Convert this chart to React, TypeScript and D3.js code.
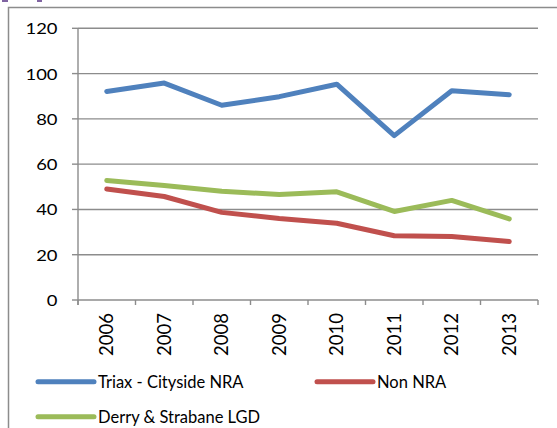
import React from "react";
import * as d3 from "d3";

const years = ["2006", "2007", "2008", "2009", "2010", "2011", "2012", "2013"];
const triax = [92.1, 95.8, 86.0, 89.8, 95.3, 72.6, 92.4, 90.7];
const nonNra = [49.0, 45.7, 38.7, 36.0, 33.9, 28.4, 28.0, 25.8];
const derry = [52.8, 50.6, 48.0, 46.6, 47.8, 39.1, 44.0, 35.8];
const yTicks = [0, 20, 40, 60, 80, 100, 120];

const seriesNames = ["Triax - Cityside NRA", "Non NRA", "Derry & Strabane LGD"];
const seriesColors = ["#4F81BD", "#C0504D", "#9BBB59"];
const seriesValues = [triax, nonNra, derry];

const W = 557;
const H = 428;
const FONT = "Lato, 'Open Sans', sans-serif";
const GRID = "#8c8c8c";

export default function App() {
  const x = d3.scaleBand<string>().domain(years).range([78, 538]).padding(0);
  const y = d3.scaleLinear().domain([0, 120]).range([300, 28.3]);
  const cx = (d: string) => (x(d) as number) + x.bandwidth() / 2;

  const line = d3
    .line<number>()
    .x((_, i) => cx(years[i]))
    .y((v) => y(v));

  const boundaries = years.map((d) => x(d) as number).concat([538]);

  // legend rows: two entries on the first row, one on the second
  const legend = [
    { lx: 38, ly: 381.7 },
    { lx: 317, ly: 381.7 },
    { lx: 38, ly: 416.7 },
  ];

  return (
    <div style={{ position: "absolute", left: 0, top: 0 }}>
      <svg width={W} height={H} style={{ display: "block", background: "#fff" }}>
        {/* header accents */}
        <rect x={2} y={0} width={6} height={2} fill="#8064A2" />
        <rect x={37} y={0} width={5} height={2} fill="#8064A2" />

        {/* chart frame */}
        <path d={`M8.5,${H} V7.5 H${W}`} fill="none" stroke={GRID} strokeWidth={1.5} />

        {/* gridlines */}
        {yTicks
          .filter((t) => t > 0)
          .map((t) => (
            <line key={t} x1={78} x2={538} y1={y(t)} y2={y(t)} stroke={GRID} strokeWidth={1.4} />
          ))}

        {/* y axis */}
        <line x1={78} x2={78} y1={y(120)} y2={305} stroke={GRID} strokeWidth={1.4} />
        {yTicks.map((t) => (
          <line key={t} x1={72} x2={78} y1={y(t)} y2={y(t)} stroke={GRID} strokeWidth={1.4} />
        ))}
        {yTicks.map((t) => (
          <text
            key={t}
            transform={`translate(57.5,${y(t) + 6}) scale(1.15,1)`}
            textAnchor="end"
            fontFamily={FONT}
            fontSize={16}
            fill="#000"
          >
            {t}
          </text>
        ))}

        {/* x axis */}
        <line x1={78} x2={538} y1={300} y2={300} stroke={GRID} strokeWidth={1.4} />
        {boundaries.map((b, i) => (
          <line key={i} x1={b} x2={b} y1={300} y2={305} stroke={GRID} strokeWidth={1.4} />
        ))}
        {years.map((d) => (
          <text
            key={d}
            transform={`translate(${cx(d) + 6.7},313) rotate(-90)`}
            textAnchor="end"
            fontFamily={FONT}
            fontSize={18.5}
            fill="#000"
          >
            {d}
          </text>
        ))}

        {/* series */}
        {seriesValues.map((vals, i) => (
          <path
            key={i}
            d={line(vals) as string}
            fill="none"
            stroke={seriesColors[i]}
            strokeWidth={5}
            strokeLinejoin="round"
            strokeLinecap="round"
          />
        ))}

        {/* legend */}
        {legend.map((l, i) => (
          <g key={i}>
            <line
              x1={l.lx}
              x2={l.lx + 56}
              y1={l.ly}
              y2={l.ly}
              stroke={seriesColors[i]}
              strokeWidth={5}
              strokeLinecap="round"
            />
            <text
              x={l.lx + 60}
              y={l.ly + 6}
              fontFamily={FONT}
              fontSize={16.5}
              fill="#000"
            >
              {seriesNames[i]}
            </text>
          </g>
        ))}
      </svg>
    </div>
  );
}
